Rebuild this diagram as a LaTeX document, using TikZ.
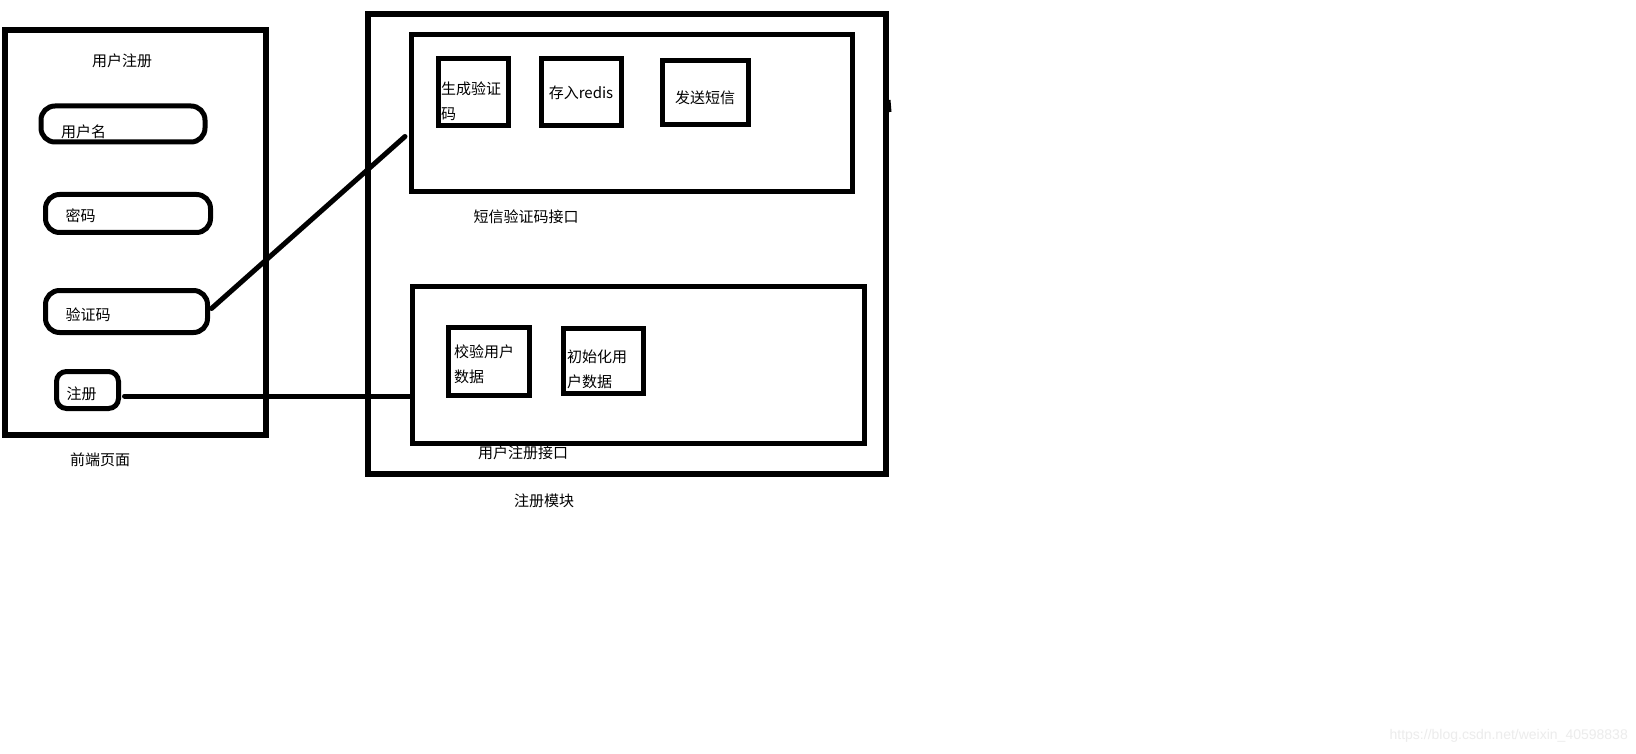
\documentclass[tikz,border=0pt]{standalone}
\usepackage{fontspec}
\usepackage{tikz}
\usetikzlibrary{positioning, calc}
\newfontfamily\cjkfont{Noto Sans CJK SC}
\newfontfamily\wmfont{Liberation Sans}
\definecolor{wmgray}{RGB}{236,236,236}

\begin{document}
\begin{tikzpicture}[
    x=1pt, y=-1pt,
    font=\cjkfont\fontsize{15}{25}\selectfont,
    frame_box/.style={draw=black, line width=6pt, outer sep=0pt, inner sep=0pt},
    api_box/.style={draw=black, line width=5pt, outer sep=0pt, inner sep=0pt, minimum height=157pt},
    step_box/.style={draw=black, line width=5pt, outer sep=0pt, inner xsep=3pt, inner ysep=0pt, align=left},
    field_box/.style={draw=black, line width=5pt, rounded corners=14pt, outer sep=0pt, inner xsep=20pt, inner ysep=0pt, align=left, text depth=1.8pt},
    two_lines/.style={text height=#1, text depth=26.8pt},
    plain_text/.style={inner sep=0pt},
    link/.style={draw=black, line width=5pt, line cap=round}
]
\useasboundingbox[fill=white] (0,0) rectangle (1636,754);

% Front-end page
\node[frame_box, minimum width=261.5pt, minimum height=404.5pt] (frontend) at (135.25,232.75) {};
\node[plain_text] (fe_title) at (122,61) {用户注册};
\node[field_box, text width=124pt, minimum height=36pt, text height=28.6pt] (uname) at (123,124) {用户名};
\node[field_box, text width=125pt, minimum height=38pt, text height=18.2pt] (pwd) at (128,213.5) {密码};
\node[field_box, text width=122pt, minimum height=42pt, text height=20.2pt] (vcode) at (126.5,311.5) {验证码};
\node[field_box, rounded corners=10pt, inner xsep=10pt, text width=42pt, minimum height=37pt, text height=21.2pt] (regbtn) at (87.5,390) {注册};
\node[plain_text] (fe_label) at (100,460) {前端页面};

% Register module
\node[frame_box, minimum width=518pt, minimum height=459.5pt] (module) at (627,244.25) {};
\draw[line width=3pt] (889,100) -- (890,112);

% SMS code interface
\node[api_box, minimum width=441pt] (smsapi) at (631.5,113.5) {};
\node[step_box, text width=64pt, minimum height=67pt, two_lines=30.8pt] (gen) at (473,92.5) {生成验证\\码};
\node[step_box, align=center, text width=74pt, minimum height=67pt, right=33pt of gen] (redis) {存入redis};
\node[step_box, align=center, text width=80pt, minimum height=64pt, text height=23.2pt, text depth=1.8pt, right=41pt of redis] (sms) {发送短信};
\node[plain_text] (sms_label) at (526,217) {短信验证码接口};

% User register interface
\node[api_box, minimum width=452pt] (regapi) at (638,364.5) {};
\node[step_box, inner xsep=6pt, text width=69pt, minimum height=68pt, two_lines=20.2pt] (check) at (488.5,361) {校验用户\\数据};
\node[step_box, inner xsep=4pt, text width=72pt, minimum height=65pt, two_lines=28.8pt, right=34pt of check] (init) {初始化用\\户数据};
\node[plain_text] (reg_label) at (523,453) {用户注册接口};
\node[plain_text] (mod_label) at (544,501) {注册模块};

% Links page -> interfaces
\draw[link] ($(vcode.east)+(4,-3)$) -- ($(smsapi.west)+(-6,23)$);
\coordinate (btn_out) at ($(regbtn.east)+(6,6)$);
\draw[link] (btn_out) -- (btn_out -| regapi.west);

% Watermark
\node[plain_text, anchor=east, font=\wmfont\fontsize{14}{16}\selectfont, text=wmgray] (wm) at (1628,736) {https://blog.csdn.net/weixin\_40598838};

\end{tikzpicture}
\end{document}
